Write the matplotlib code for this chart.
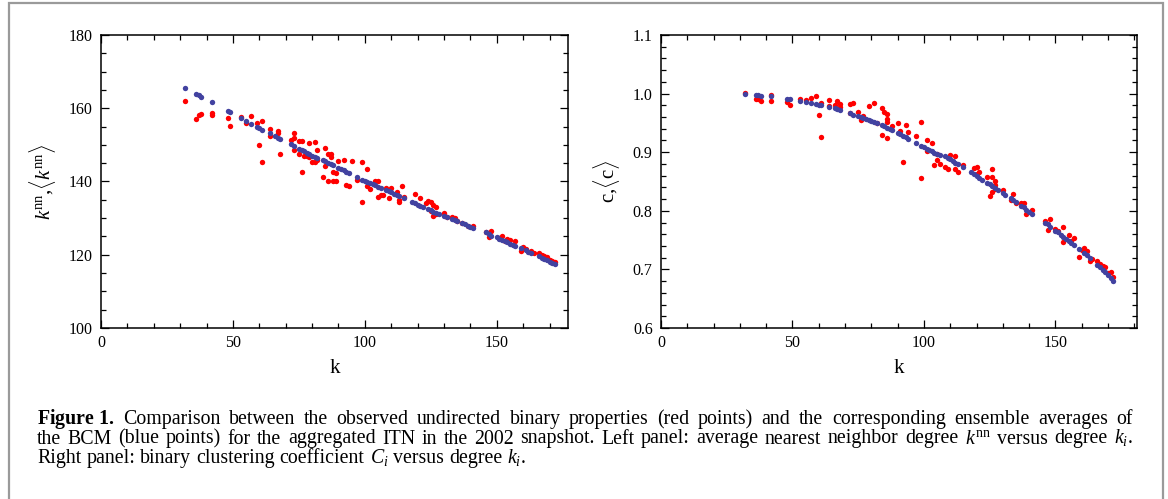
import matplotlib
matplotlib.use("Agg")
import matplotlib.pyplot as plt
from matplotlib.patches import Rectangle
from matplotlib.ticker import MultipleLocator

plt.rcParams["font.family"] = ["Liberation Serif", "DejaVu Serif"]
plt.rcParams["mathtext.fontset"] = "custom"
plt.rcParams["mathtext.rm"] = "Liberation Serif"
plt.rcParams["mathtext.it"] = "Liberation Serif:italic"
plt.rcParams["mathtext.bf"] = "Liberation Serif:bold"

# -------------------------------------------------------
# Data
# -------------------------------------------------------
# BCM ensemble averages (blue), same degrees in both panels
k_bcm = [32, 36, 37, 38, 42, 48, 49, 53, 55, 57, 59, 60, 61, 64, 66, 67, 68,
         72, 73, 75, 76, 77, 78, 79, 80, 81, 82, 84, 85, 86, 87, 88, 90, 91,
         92, 93, 94, 97, 99, 100, 101, 102, 103, 104, 105, 106, 108, 109, 110,
         111, 112, 113, 115, 118, 119, 120, 121, 122, 124, 125, 126, 127, 128,
         130, 131, 133, 134, 135, 137, 138, 139, 140, 141, 146, 147, 148, 150,
         151, 152, 153, 154, 155, 156, 157, 159, 161, 162, 163, 166, 167, 168,
         169, 170, 171, 172]
knn_bcm = [165.4, 163.8, 163.5, 163.2, 161.6, 159.2, 158.9, 157.4, 156.5,
           155.8, 155.0, 154.6, 154.1, 153.2, 152.4, 152.0, 151.5, 150.2,
           149.7, 149.0, 148.6, 148.2, 147.8, 147.4, 147.0, 146.6, 146.3,
           145.9, 145.5, 145.1, 144.8, 144.4, 143.7, 143.4, 143.0, 142.7,
           142.3, 141.3, 140.5, 140.2, 139.8, 139.6, 139.3, 139.0, 138.6,
           138.3, 137.7, 137.4, 137.0, 136.7, 136.4, 136.0, 135.4, 134.5,
           134.1, 133.7, 133.4, 133.0, 132.5, 132.1, 131.7, 131.4, 131.1,
           130.6, 130.3, 129.8, 129.4, 129.1, 128.8, 128.3, 127.9, 127.6,
           127.3, 126.1, 125.6, 125.2, 124.8, 124.4, 124.1, 123.7, 123.4,
           123.0, 122.7, 122.3, 121.8, 121.2, 120.8, 120.4, 119.6, 119.2,
           118.9, 118.5, 118.1, 117.8, 117.4]
cc_bcm = [0.9988, 0.9976, 0.997, 0.9964, 0.9959, 0.9913, 0.991, 0.9879,
          0.9862, 0.9845, 0.9822, 0.981, 0.980, 0.9777, 0.9749, 0.973, 0.9715,
          0.9664, 0.964, 0.9618, 0.960, 0.958, 0.957, 0.955, 0.953, 0.951,
          0.950, 0.946, 0.944, 0.942, 0.940, 0.938, 0.933, 0.931, 0.928,
          0.926, 0.923, 0.916, 0.911, 0.909, 0.906, 0.904, 0.902, 0.899,
          0.897, 0.895, 0.893, 0.890, 0.888, 0.885, 0.881, 0.879, 0.874,
          0.866, 0.863, 0.860, 0.856, 0.852, 0.848, 0.845, 0.842, 0.839,
          0.836, 0.830, 0.827, 0.821, 0.818, 0.815, 0.809, 0.806, 0.802,
          0.798, 0.795, 0.780, 0.777, 0.773, 0.766, 0.763, 0.759, 0.756,
          0.752, 0.749, 0.745, 0.741, 0.735, 0.728, 0.724, 0.719, 0.708,
          0.704, 0.699, 0.695, 0.690, 0.686, 0.681]

# observed values (red), left panel
k_obs_knn = [32, 36, 37, 38, 42, 42, 48, 49, 53, 55, 57, 59, 60, 61, 61, 64,
             64, 67, 67, 68, 72, 73, 73, 73, 75, 76, 75, 76, 77, 78, 79, 79,
             80, 81, 81, 82, 82, 84, 85, 85, 86, 86, 87, 87, 88, 88, 89, 89,
             90, 92, 93, 94, 95, 97, 99, 99, 101, 101, 102, 104, 105, 105,
             106, 107, 108, 109, 110, 112, 113, 113, 114, 115, 119, 121, 123,
             124, 125, 125, 126, 126, 127, 127, 130, 131, 133, 134, 135, 137,
             139, 141, 146, 147, 148, 151, 152, 153, 154, 155, 157, 159, 160,
             161, 163, 164, 166, 167, 168, 169, 170, 171, 172]
knn_obs = [162.1, 157.1, 158.2, 158.5, 158.7, 158.2, 157.4, 155.1, 157.6,
           156.1, 158.0, 156.1, 150.0, 156.5, 145.4, 154.4, 152.4, 153.9,
           153.2, 147.5, 151.3, 153.3, 151.8, 148.5, 151.1, 151.1, 147.5,
           142.6, 147.0, 147.0, 150.6, 146.8, 145.4, 150.8, 145.2, 148.6,
           145.9, 141.3, 149.1, 144.2, 147.5, 140.2, 146.8, 147.5, 140.2,
           142.7, 140.1, 142.4, 145.7, 145.9, 139.0, 138.7, 145.6, 140.3,
           145.2, 134.5, 143.5, 138.7, 138.0, 140.1, 140.1, 135.9, 136.4,
           136.4, 138.3, 135.5, 138.3, 137.1, 135.0, 134.4, 138.8, 135.8,
           136.5, 135.5, 134.1, 134.7, 134.4, 131.9, 130.5, 133.7, 131.0,
           133.0, 131.4, 130.4, 130.3, 129.9, 129.1, 128.8, 127.8, 127.9,
           126.1, 124.9, 126.4, 124.6, 125.1, 123.7, 124.4, 124.0, 123.7,
           121.1, 122.2, 121.6, 120.9, 120.5, 120.4, 119.8, 119.6, 119.3,
           118.6, 118.4, 117.9]

# observed values (red), right panel
k_obs_cc = [32, 36, 37, 38, 42, 42, 48, 49, 53, 55, 57, 59, 60, 61, 61, 64,
            64, 66, 67, 68, 68, 72, 73, 72, 75, 76, 77, 79, 81, 82, 84, 85,
            86, 86, 86, 84, 86, 88, 90, 91, 92, 93, 94, 97, 99, 99, 101, 101,
            103, 104, 105, 106, 105, 108, 109, 110, 112, 112, 113, 115, 119,
            120, 121, 120, 124, 126, 126, 127, 127, 126, 125, 127, 130, 134,
            133, 135, 137, 138, 139, 141, 146, 148, 147, 150, 151, 153, 153,
            155, 156, 157, 159, 160, 161, 162, 163, 164, 166, 167, 168, 169,
            170, 171, 172]
cc_obs = [1.0015, 0.9908, 0.990, 0.9879, 0.9981, 0.9879, 0.985, 0.980,
          0.9913, 0.9891, 0.993, 0.9964, 0.963, 0.9845, 0.9265, 0.9886,
          0.9795, 0.980, 0.9874, 0.9823, 0.9767, 0.9817, 0.9835, 0.9674,
          0.968, 0.955, 0.9618, 0.979, 0.9835, 0.9504, 0.9749, 0.969, 0.966,
          0.957, 0.952, 0.9294, 0.9248, 0.945, 0.949, 0.937, 0.8826, 0.947,
          0.934, 0.928, 0.8568, 0.952, 0.9026, 0.921, 0.915, 0.878, 0.8867,
          0.8797, 0.8962, 0.874, 0.872, 0.8952, 0.894, 0.8706, 0.8654, 0.878,
          0.8724, 0.874, 0.8654, 0.8626, 0.858, 0.8712, 0.857, 0.8512, 0.8437,
          0.8323, 0.8254, 0.8379, 0.8362, 0.8293, 0.8179, 0.8133, 0.8133,
          0.8133, 0.795, 0.8018, 0.7824, 0.7853, 0.7664, 0.7693, 0.765,
          0.7722, 0.7465, 0.7579, 0.748, 0.7532, 0.7218, 0.733, 0.7367, 0.731,
          0.715, 0.718, 0.715, 0.709, 0.7063, 0.7035, 0.693, 0.6949, 0.6863]

# caption, one list of words per printed line (last line is not justified)
caption_lines = [
    [r"$\mathbf{Figure\ 1.}$", "Comparison", "between", "the", "observed",
     "undirected", "binary", "properties", "(red", "points)", "and", "the",
     "corresponding", "ensemble", "averages", "of"],
    ["the", "BCM", "(blue", "points)", "for", "the", "aggregated", "ITN",
     "in", "the", "2002", "snapshot.", "Left", "panel:", "average",
     "nearest", "neighbor", "degree", r"$k^{\mathrm{nn}}$", "versus",
     "degree", r"$k_i$."],
    ["Right", "panel:", "binary", "clustering", "coefficient", r"$C_i$",
     "versus", "degree", r"$k_i$."],
]

RED = "#ff0000"
BLUE = "#4242a0"
W, H = 1168, 499


def style_axis(ax, xmax, ylim, ymajor, yminor, yfmt):
    ax.set_xlim(0, xmax)
    ax.set_ylim(*ylim)
    ax.xaxis.set_major_locator(MultipleLocator(50))
    ax.xaxis.set_minor_locator(MultipleLocator(10))
    ax.yaxis.set_major_locator(MultipleLocator(ymajor))
    ax.yaxis.set_minor_locator(MultipleLocator(yminor))
    ax.yaxis.set_major_formatter(yfmt)
    ax.tick_params(which="both", direction="in", top=True, right=True,
                   width=0.9, labelsize=11.5, colors="black")
    ax.tick_params(which="major", length=6)
    ax.tick_params(which="minor", length=3.5)
    ax.tick_params(axis="y", pad=6)
    ax.tick_params(axis="x", pad=5)
    for s in ax.spines.values():
        s.set_linewidth(1.1)
    ax.set_xlabel("k", fontsize=15, labelpad=6)


def draw_caption(fig, lines, x0, x1, y0, step, size):
    renderer = fig.canvas.get_renderer()
    probe = fig.text(0, 0, "a a", fontsize=size)
    probe2 = fig.text(0, 0, "aa", fontsize=size)
    space_w = (probe.get_window_extent(renderer).width
               - probe2.get_window_extent(renderer).width)
    probe.remove()
    probe2.remove()
    for i, words in enumerate(lines):
        y = (H - (y0 + i * step)) / H
        texts = [fig.text(0, y, w, fontsize=size, va="baseline")
                 for w in words]
        widths = [t.get_window_extent(renderer).width for t in texts]
        if i < len(lines) - 1:
            gap = (x1 - x0 - sum(widths)) / (len(words) - 1)
        else:
            gap = space_w
        x = x0
        for t, w in zip(texts, widths):
            t.set_x(x / W)
            x += w + gap


fig = plt.figure(figsize=(W / 100, H / 100), dpi=100)
ax1 = fig.add_axes([0.0865, 0.3427, 0.3998, 0.5872])
ax2 = fig.add_axes([0.5659, 0.3427, 0.4075, 0.5872])

ax1.scatter(k_obs_knn, knn_obs, s=15, color=RED, linewidths=0, zorder=2)
ax1.scatter(k_bcm, knn_bcm, s=15, color=BLUE, linewidths=0, zorder=3)
style_axis(ax1, 177, (100, 180), 20, 5, "{x:.0f}")
ax1.set_ylabel(r"$k^{\rm nn}$,$\langle k^{\rm nn}\rangle$", fontsize=15,
               labelpad=8)

ax2.scatter(k_obs_cc, cc_obs, s=15, color=RED, linewidths=0, zorder=2)
ax2.scatter(k_bcm, cc_bcm, s=15, color=BLUE, linewidths=0, zorder=3)
style_axis(ax2, 181, (0.6, 1.1), 0.1, 0.02, "{x:.1f}")
ax2.set_ylabel(r"c,$\langle$c$\rangle$", fontsize=15, labelpad=8)

# baselines of the three caption lines, counted from the top in pixels
draw_caption(fig, caption_lines, 37, 1133, 424, 19.5, 14.3)

# grey frame around the figure box
fig.patches.append(Rectangle((9 / W, -0.1), 1154 / W, 1.1 - 3.5 / H,
                             transform=fig.transFigure, fill=False,
                             edgecolor="#9a9a9a", linewidth=1.6))

fig.savefig("out.png", dpi=100)
